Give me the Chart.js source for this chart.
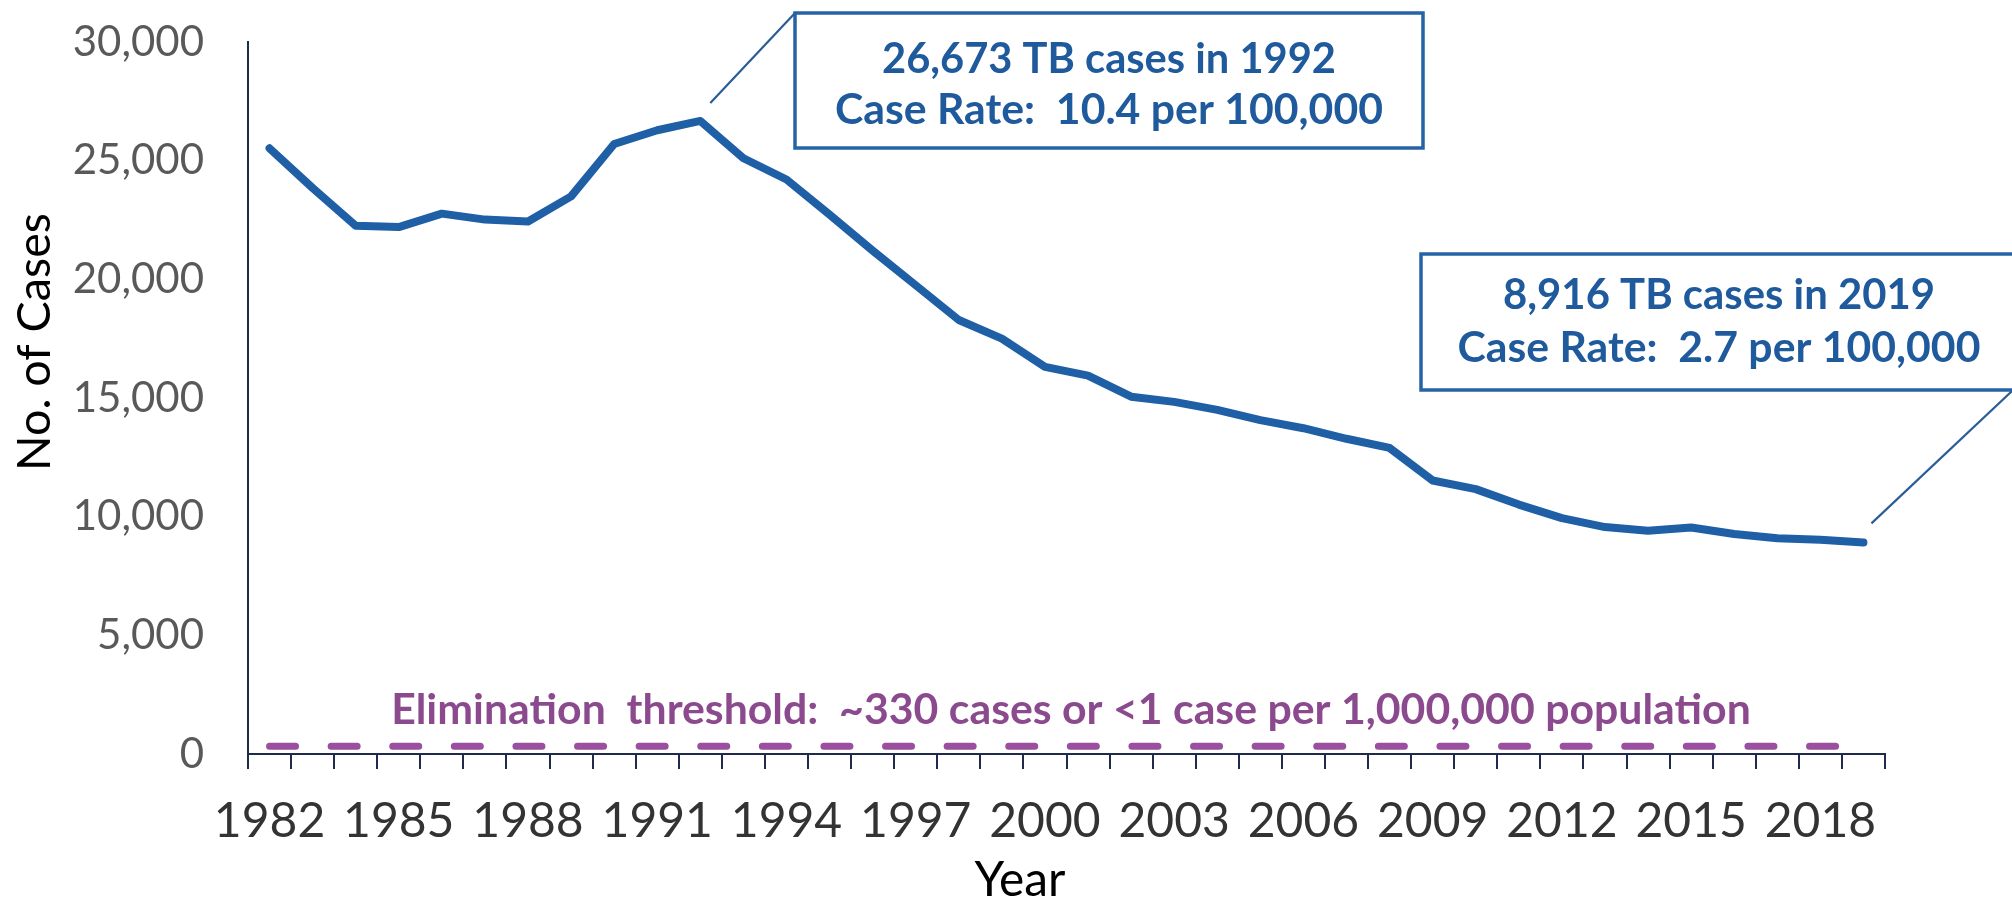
<!DOCTYPE html>
<html>
<head>
<meta charset="utf-8">
<script src="https://cdn.jsdelivr.net/npm/chart.js@4.4.0/dist/chart.umd.min.js"></script>
<style>
  html, body { margin: 0; padding: 0; background: #ffffff; }
  #wrap { width: 2012px; height: 900px; position: relative; overflow: hidden; }
</style>
</head>
<body>
<div id="wrap"><canvas id="chart" width="2012" height="900"></canvas></div>
<script>
// ---------------- DATA ----------------
const years = [1982,1983,1984,1985,1986,1987,1988,1989,1990,1991,1992,1993,1994,1995,1996,1997,1998,1999,2000,
               2001,2002,2003,2004,2005,2006,2007,2008,2009,2010,2011,2012,2013,2014,2015,2016,2017,2018,2019];
const tbCases = [25520,23846,22255,22201,22768,22517,22436,23495,25701,26283,26673,25102,24206,22727,21210,19751,18287,17500,16309,
                 15945,15055,14836,14500,14065,13727,13282,12895,11523,11161,10510,9940,9561,9406,9546,9272,9093,9025,8916];
const eliminationThreshold = [330,330,330,330,330,330,330,330,330,330,330,330,330,330,330,330,330,330,330,
                              330,330,330,330,330,330,330,330,330,330,330,330,330,330,330,330,330,330,330];
const xTickLabels = ['1982','1985','1988','1991','1994','1997','2000','2003','2006','2009','2012','2015','2018'];
const yTickValues = [0,5000,10000,15000,20000,25000,30000];
const yAxisTitle = 'No. of Cases';
const xAxisTitle = 'Year';
const eliminationText = 'Elimination  threshold:  ~330 cases or <1 case per 1,000,000 population';
const callouts = [
  { year: 1992, lines: ['26,673 TB cases in 1992', 'Case Rate:  10.4 per 100,000'] },
  { year: 2019, lines: ['8,916 TB cases in 2019', 'Case Rate:  2.7 per 100,000'] }
];

// ---------------- STYLE ----------------
const FONT = 'Lato, "Open Sans", "Noto Sans", sans-serif';
const BLUE = '#1e5fa6';
const BOX_BLUE = '#2563a6';
const TEXT_BLUE = '#1f5a9c';
const PURPLE_LINE = '#9a4f9f';
const PURPLE_TEXT = '#8c4a8e';
const AXIS_COLOR = '#1f2b4a';

// layout of callouts (pixels) – layout only
const calloutLayout = [
  { box: [795, 13, 628, 135], anchor: [795, 13], tip: [10, -18], textX: 1109, lineY: [60, 110], widths: [454, 548] },
  { box: [1421, 254, 600, 136], anchor: [2012, 391], tip: [8, -19], textX: 1719, lineY: [296, 348], widths: [432, 523] }
];

function fitFont(ctx, text, weight, width) {
  ctx.font = weight + ' 100px ' + FONT;
  const w = ctx.measureText(text).width;
  return 100 * width / w;
}

const annotationPlugin = {
  id: 'annotations',
  afterDatasetsDraw(chart) {
    const { ctx, scales } = chart;
    const x = scales.x, y = scales.y;
    ctx.save();
    // elimination threshold label
    const es = fitFont(ctx, eliminationText, 'bold', 1360);
    ctx.font = 'bold ' + es.toFixed(2) + 'px ' + FONT;
    ctx.fillStyle = PURPLE_TEXT;
    ctx.textAlign = 'center';
    ctx.textBaseline = 'middle';
    ctx.fillText(eliminationText, 1071, 710);

    // callouts
    callouts.forEach((c, i) => {
      const L = calloutLayout[i];
      const idx = years.indexOf(c.year);
      const px = x.getPixelForValue(idx);
      const py = y.getPixelForValue(tbCases[idx]);
      ctx.fillStyle = '#ffffff';
      ctx.fillRect(L.box[0], L.box[1], L.box[2], L.box[3]);
      ctx.strokeStyle = BOX_BLUE;
      ctx.lineWidth = 3.5;
      ctx.strokeRect(L.box[0], L.box[1], L.box[2], L.box[3]);
      ctx.lineWidth = 2.2;
      ctx.strokeStyle = '#2a5d98';
      ctx.beginPath();
      ctx.moveTo(L.anchor[0], L.anchor[1]);
      ctx.lineTo(px + L.tip[0], py + L.tip[1]);
      ctx.stroke();
      ctx.fillStyle = TEXT_BLUE;
      c.lines.forEach((t, j) => {
        const s = fitFont(ctx, t, 'bold', L.widths[j]);
        ctx.font = 'bold ' + s.toFixed(2) + 'px ' + FONT;
        ctx.fillText(t, L.textX, L.lineY[j]);
      });
    });

    // axis titles
    ctx.fillStyle = '#000000';
    ctx.textAlign = 'center';
    ctx.textBaseline = 'alphabetic';
    const xs = fitFont(ctx, xAxisTitle, 'normal', 91);
    ctx.font = 'normal ' + xs.toFixed(2) + 'px ' + FONT;
    ctx.fillText(xAxisTitle, 1020, 896);
    const ys = fitFont(ctx, yAxisTitle, 'normal', 258);
    ctx.font = 'normal ' + ys.toFixed(2) + 'px ' + FONT;
    ctx.translate(50, 342);
    ctx.rotate(-Math.PI / 2);
    ctx.fillText(yAxisTitle, 0, 0);
    ctx.restore();
  }
};

new Chart(document.getElementById('chart'), {
  type: 'line',
  data: {
    labels: years.map(String),
    datasets: [
      {
        label: 'Elimination threshold',
        data: eliminationThreshold,
        borderColor: PURPLE_LINE,
        borderWidth: 7,
        borderDash: [26, 35.6],
        borderCapStyle: 'round',
        pointRadius: 0,
        tension: 0,
        fill: false
      },
      {
        label: 'TB cases',
        data: tbCases,
        borderColor: BLUE,
        borderWidth: 8,
        borderCapStyle: 'round',
        borderJoinStyle: 'round',
        pointRadius: 0,
        tension: 0,
        fill: false
      }
    ]
  },
  options: {
    responsive: false,
    animation: false,
    devicePixelRatio: 1,
    layout: { padding: { left: 0, right: 127, top: 42, bottom: 0 } },
    plugins: { legend: { display: false }, tooltip: { enabled: false }, title: { display: false } },
    scales: {
      x: {
        type: 'category',
        offset: true,
        grid: { display: true, offset: true, drawOnChartArea: false, drawTicks: true, tickLength: 15, color: AXIS_COLOR, lineWidth: 2 },
        border: { display: true, color: AXIS_COLOR, width: 2 },
        ticks: {
          autoSkip: false, maxRotation: 0, minRotation: 0, padding: 24,
          color: '#333333', font: { family: FONT, size: 48 },
          callback: function(v, i) { const l = String(years[i]); return xTickLabels.includes(l) ? l : ''; }
        },
        title: { display: false, text: xAxisTitle },
        afterFit(s) { s.height = 146; }
      },
      y: {
        min: 0, max: 30000,
        afterBuildTicks(s) { s.ticks = yTickValues.map(v => ({ value: v })); },
        grid: { display: false, drawTicks: false },
        border: { display: true, color: AXIS_COLOR, width: 2 },
        ticks: {
          padding: 44, color: '#595959', font: { family: FONT, size: 42 },
          callback: v => v.toLocaleString('en-US')
        },
        title: { display: false, text: yAxisTitle },
        afterFit(s) { s.width = 248; s.paddingTop = 0; s.paddingBottom = 0; }
      }
    }
  },
  plugins: [annotationPlugin]
});
</script>
</body>
</html>
